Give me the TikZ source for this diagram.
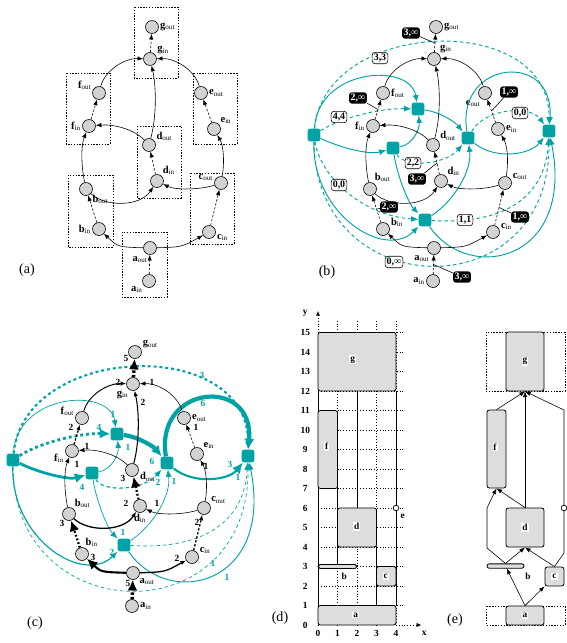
\documentclass[tikz,border=0pt]{standalone}
\usepackage{fontspec}
\setmainfont{Liberation Serif}
\usetikzlibrary{arrows.meta,positioning,calc}
\definecolor{flowteal}{HTML}{00A3A3}
\definecolor{cellgray}{HTML}{D2D2D2}
\definecolor{boxgray}{HTML}{DDDDDD}
\newcommand{\nm}[2]{\textbf{#1}\textsubscript{#2}}
\tikzset{
  cell/.style={circle,draw=black,fill=cellgray,line width=0.5pt,
               minimum size=0.39cm,inner sep=0pt},
  hub/.style={rectangle,rounded corners=2pt,fill=flowteal,
              minimum size=0.38cm,inner sep=0pt},
  lab/.style={font=\fontsize{9}{10}\selectfont,inner sep=1pt},
  wire/.style={-{Latex[length=1.7mm,width=1.3mm]},line width=0.5pt},
  pairwire/.style={wire,dash pattern=on 2pt off 1.5pt},
  twire/.style={-{Latex[length=2.2mm,width=1.8mm]},line width=0.8pt,draw=flowteal},
  tdash/.style={twire,dash pattern=on 3pt off 2.5pt},
  fattip/.style={-{Latex[length=3.2mm,width=3mm]}},
  pairbox/.style={draw,line width=0.6pt,dash pattern=on 1.2pt off 1.2pt},
  darktag/.style={fill=black,text=white,rounded corners=2.5pt,
                  font=\fontsize{8.5}{9}\selectfont\bfseries,inner sep=1.4pt},
  lighttag/.style={draw=black,fill=white,rounded corners=2.5pt,line width=0.5pt,
                   font=\fontsize{8.5}{9}\selectfont\bfseries,inner sep=1.4pt},
  pointer/.style={line width=0.5pt},
  bnum/.style={font=\fontsize{8}{9}\selectfont\bfseries,inner sep=0pt},
  tnum/.style={bnum,text=flowteal},
  panel/.style={font=\fontsize{12}{14}\selectfont},
  block/.style={draw=black,fill=boxgray,line width=0.7pt,rounded corners=2pt,inner sep=0pt},
  blocklab/.style={fill=white,font=\fontsize{8}{9}\selectfont\bfseries,inner sep=0.8pt},
  ticklab/.style={font=\fontsize{8}{9}\selectfont\bfseries},
  gridline/.style={line width=0.4pt,dotted},
  % black wires, one style per edge
  ea/.style={pairwire}, eb/.style={pairwire}, ec/.style={pairwire},
  ed/.style={pairwire}, ef/.style={pairwire}, ee/.style={pairwire},
  eg/.style={pairwire},
  eab/.style={wire}, eac/.style={wire}, ebd/.style={wire}, ecd/.style={wire},
  ebf/.style={wire}, ece/.style={wire}, edf/.style={wire}, edg/.style={wire},
  efg/.style={wire}, eeg/.style={wire},
  % teal wires
  t12/.style={twire}, t12d/.style={tdash}, t15a/.style={tdash},
  t24/.style={twire}, t32/.style={twire}, t13/.style={twire},
  t16d/.style={tdash}, t16/.style={twire}, t36/.style={twire},
  t64/.style={twire}, t65/.style={twire}, t34d/.style={tdash},
  t65d/.style={tdash}, t45d/.style={tdash}, t45a/.style={twire},
  t45/.style={twire}, t15b/.style={tdash}
}
\newcommand{\wires}[1]{%
  \draw[ea]  (#1ain) -- coordinate (#1ma) (#1aout);
  \draw[eab] (#1aout) .. controls (118,247) .. (#1bin);
  \draw[eac] (#1aout) .. controls (182,247) .. (#1cin);
  \draw[eb]  (#1bin) -- coordinate (#1mb) (#1bout);
  \draw[ec]  (#1cin) -- coordinate (#1mc) (#1cout);
  \draw[ebd] (#1bout) .. controls (105,207) and (140,207) .. (#1din);
  \draw[ecd] (#1cout) .. controls (200,190) and (175,190) .. (#1din);
  \draw[ebf] (#1bout) .. controls (81,165) and (81,145) .. (#1fin);
  \draw[ece] (#1cout) .. controls (225,160) and (223,145) .. (#1ein);
  \draw[ed]  (#1din) -- coordinate (#1md) (#1dout);
  \draw[edf] (#1dout) .. controls (135,130) and (115,124) .. (#1fin);
  \draw[edg] (#1dout) .. controls (157,115) and (156,85) .. (#1gin);
  \draw[ef]  (#1fin) -- coordinate (#1mf) (#1fout);
  \draw[ee]  (#1ein) -- coordinate (#1me) (#1eout);
  \draw[efg] (#1fout) .. controls (105,70) and (125,58) .. (#1gin);
  \draw[eeg] (#1eout) .. controls (195,70) and (175,58) .. (#1gin);
  \draw[eg]  (#1gin) -- coordinate (#1mg) (#1gout);
}
\newcommand{\hubwires}[1]{%
  \draw[t12]  (#1s1) .. controls (34,68) and (126,62) .. (#1s2);
  \draw[t12d] (#1s1) .. controls (56,118) and (96,108) .. (#1s2);
  \draw[t15a] (#1s1) .. controls (41,18) and (266,10) .. (#1s5);
  \draw[t24]  (#1s2) .. controls (156,112) and (171,122) .. (#1s4);
  \draw[t32]  (#1s3) .. controls (128,145) and (136,130) .. (#1s2);
  \draw[t13]  (#1s1) .. controls (56,148) and (86,155) .. (#1s3);
  \draw[t16d] (#1s1) .. controls (36,175) and (76,215) .. (#1s6);
  \draw[t16]  (#1s1) .. controls (28,215) and (101,260) .. (#1s6);
  \draw[t36]  (#1s3) .. controls (114,180) and (126,205) .. (#1s6);
  \draw[t64]  (#1s6) .. controls (171,200) and (188,170) .. (#1s4);
  \draw[t65]  (#1s6) .. controls (186,285) and (291,260) .. (#1s5);
  \draw[t34d] (#1s3) .. controls (121,168) and (161,165) .. (#1s4);
  \draw[t65d] (#1s6) .. controls (216,225) and (261,200) .. (#1s5);
  \draw[t45d] (#1s4) .. controls (201,108) and (246,105) .. (#1s5);
  \draw[t45a] (#1s4) .. controls (171,60) and (271,50) .. (#1s5);
  \draw[t45]  (#1s4) .. controls (211,160) and (246,155) .. (#1s5);
  \draw[t15b] (#1s1) .. controls (31,305) and (266,310) .. (#1s5);
}
\newcommand{\hubs}[1]{%
  \node[hub] (#1s1) at (30,135) {};
  \node[hub] (#1s2) at (134,109) {};
  \node[hub] (#1s3) at (109,148) {};
  \node[hub] (#1s4) at (184,138) {};
  \node[hub] (#1s5) at (265,131) {};
  \node[hub] (#1s6) at (141,220) {};
}

\begin{document}
\begin{tikzpicture}[x=0.03cm,y=-0.03cm]
  \path[use as bounding box] (0,0) rectangle (567,643);

  % ---------- (a) ----------
  \draw[pairbox] (134,7) rectangle (178,78);
  \draw[pairbox] (66,73) rectangle (110,144);
  \draw[pairbox] (193,73) rectangle (237,144);
  \draw[pairbox] (137,126) rectangle (181,198);
  \draw[pairbox] (68,175) rectangle (113,247);
  \draw[pairbox] (190,173) rectangle (234,244);
  \draw[pairbox] (122,232) rectangle (167,297);
  \node[cell,label={[lab]0:\nm{g}{out}}] (Agout) at (152,27) {};
  \node[cell,label={[lab]30:\nm{g}{in}}] (Agin) at (150,59) {};
  \node[cell,label={[lab]160:\nm{f}{out}}] (Afout) at (99,93) {};
  \node[cell,label={[lab]180:\nm{f}{in}}] (Afin) at (89,126) {};
  \node[cell,label={[lab]0:\nm{e}{out}}] (Aeout) at (201,93) {};
  \node[cell,label={[lab]40:\nm{e}{in}}] (Aein) at (214,129) {};
  \node[cell,label={[lab]25:\nm{d}{out}}] (Adout) at (149,145) {};
  \node[cell,label={[lab]50:\nm{d}{in}}] (Adin) at (157,181) {};
  \node[cell,label={[lab]-40:\nm{b}{out}}] (About) at (86,189) {};
  \node[cell,label={[lab]180:\nm{b}{in}}] (Abin) at (99,229) {};
  \node[cell,label={[lab]170:\nm{c}{out}}] (Acout) at (221,183) {};
  \node[cell,label={[lab]-10:\nm{c}{in}}] (Acin) at (209,232) {};
  \node[cell,label={[lab]260:\nm{a}{out}}] (Aaout) at (150,248) {};
  \node[cell,label={[lab]220:\nm{a}{in}}] (Aain) at (149,281) {};
  \wires{A}
  \node[panel] (capa) at (27,270) {(a)};

  % ---------- (b) ----------
  \begin{scope}[shift={(284,0)}]
    \node[cell,label={[lab]0:\nm{g}{out}}] (Bgout) at (152,27) {};
    \node[cell,label={[lab]45:\nm{g}{in}}] (Bgin) at (150,59) {};
    \node[cell,label={[lab]0:\nm{f}{out}}] (Bfout) at (99,93) {};
    \node[cell,label={[lab]180:\nm{f}{in}}] (Bfin) at (89,126) {};
    \node[cell,label={[lab]240:\nm{e}{out}}] (Beout) at (201,93) {};
    \node[cell,label={[lab]0:\nm{e}{in}}] (Bein) at (214,129) {};
    \node[cell,label={[lab]30:\nm{d}{out}}] (Bdout) at (149,145) {};
    \node[cell,label={[lab]40:\nm{d}{in}}] (Bdin) at (157,181) {};
    \node[cell,label={[lab]60:\nm{b}{out}}] (Bbout) at (86,189) {};
    \node[cell,label={[lab]10:\nm{b}{in}}] (Bbin) at (99,229) {};
    \node[cell,label={[lab]20:\nm{c}{out}}] (Bcout) at (221,183) {};
    \node[cell,label={[lab]10:\nm{c}{in}}] (Bcin) at (209,232) {};
    \node[cell,label={[lab]240:\nm{a}{out}}] (Baout) at (150,248) {};
    \node[cell,label={[lab]180:\nm{a}{in}}] (Bain) at (149,281) {};
    \hubs{B}
    \hubwires{B}
    \wires{B}
  \end{scope}
  \node[darktag] (tagg) at (411,33) {3,∞};
  \node[lighttag] (tag33) at (380,58) {3,3};
  \node[darktag] (tagf) at (358,98) {2,∞};
  \node[darktag] (tage) at (509,92) {1,∞};
  \node[lighttag] (tag44) at (339,117) {4,4};
  \node[lighttag] (tag00a) at (520,113) {0,0};
  \node[lighttag] (tag22) at (413,163) {2,2};
  \node[darktag] (tagd) at (417,179) {3,∞};
  \node[lighttag] (tag00b) at (339,185) {0,0};
  \node[darktag] (tagb) at (389,207) {2,∞};
  \node[lighttag] (tag11) at (465,220) {1,1};
  \node[darktag] (tagc) at (520,217) {1,∞};
  \node[lighttag] (tag0i) at (394,262) {0,∞};
  \node[darktag] (taga) at (462,277) {3,∞};
  \draw[pointer] (tagg) -- (Bmg);
  \draw[pointer] (tagf) -- (Bmf);
  \draw[pointer] (tage) -- (Bme);
  \draw[pointer] (tagd) -- (Bmd);
  \draw[pointer] (tagb) -- (Bmb);
  \draw[pointer] (tagc) -- (Bmc);
  \draw[pointer] (taga) -- (Bma);
  \node[panel] (capb) at (327,272) {(b)};

  % ---------- (c) ----------
  \begin{scope}[shift={(-17,325)},
      ea/.style={pairwire,fattip,line width=3pt,dash pattern=on 2pt off 1.8pt},
      eab/.style={wire,fattip,line width=1.8pt},
      eac/.style={wire,line width=1.1pt},
      eb/.style={pairwire,fattip,line width=2pt,dash pattern=on 1.5pt off 1.8pt},
      ec/.style={pairwire,line width=1.1pt},
      ebd/.style={wire,line width=1.1pt},
      ed/.style={pairwire,fattip,line width=2pt,dash pattern=on 1.5pt off 1.8pt},
      edg/.style={wire,line width=0.9pt},
      ef/.style={pairwire,line width=1.1pt},
      efg/.style={wire,line width=0.8pt},
      eg/.style={pairwire,fattip,line width=3pt,dash pattern=on 2pt off 1.8pt},
      t12/.style={twire,line width=0.6pt},
      t12d/.style={tdash,fattip,line width=2.4pt,dash pattern=on 2.5pt off 2.5pt},
      t15a/.style={tdash,line width=1.8pt,dash pattern=on 2.5pt off 2.5pt},
      t24/.style={twire,fattip,line width=3.6pt},
      t32/.style={twire,line width=0.6pt},
      t13/.style={twire,fattip,line width=2.4pt},
      t16d/.style={draw=none},
      t16/.style={twire,line width=1pt},
      t36/.style={twire,line width=0.6pt},
      t64/.style={twire,line width=0.6pt},
      t65/.style={twire,line width=0.8pt},
      t34d/.style={tdash,line width=1pt},
      t65d/.style={tdash,line width=0.6pt},
      t45d/.style={draw=none},
      t45a/.style={twire,fattip,line width=3.6pt},
      t45/.style={twire,fattip,line width=1.8pt},
      t15b/.style={tdash,line width=0.6pt}]
    \node[cell,label={[lab]20:\nm{g}{out}}] (Cgout) at (152,27) {};
    \node[cell,label={[lab]240:\nm{g}{in}}] (Cgin) at (150,59) {};
    \node[cell,label={[lab]170:\nm{f}{out}}] (Cfout) at (99,93) {};
    \node[cell,label={[lab]190:\nm{f}{in}}] (Cfin) at (89,126) {};
    \node[cell,label={[lab]0:\nm{e}{out}}] (Ceout) at (201,93) {};
    \node[cell,label={[lab]40:\nm{e}{in}}] (Cein) at (214,129) {};
    \node[cell,label={[lab]-10:\nm{d}{out}}] (Cdout) at (149,145) {};
    \node[cell,label={[lab]270:\nm{d}{in}}] (Cdin) at (157,181) {};
    \node[cell,label={[lab]50:\nm{b}{out}}] (Cbout) at (86,189) {};
    \node[cell,label={[lab]70:\nm{b}{in}}] (Cbin) at (99,229) {};
    \node[cell,label={[lab]30:\nm{c}{out}}] (Ccout) at (221,183) {};
    \node[cell,label={[lab]20:\nm{c}{in}}] (Ccin) at (209,232) {};
    \node[cell,label={[lab]-40:\nm{a}{out}}] (Caout) at (150,248) {};
    \node[cell,label={[lab]0:\nm{a}{in}}] (Cain) at (149,281) {};
    \hubs{C}
    \hubwires{C}
    \wires{C}
  \end{scope}
  % black flows
  \node[bnum] (n1) at (126,358) {5};
  \node[bnum] (n2) at (118,382) {2};
  \node[bnum] (n3) at (152,382) {1};
  \node[bnum] (n4) at (143,402) {2};
  \node[bnum] (n5) at (71,427) {2};
  \node[bnum] (n6) at (87,446) {1};
  \node[bnum] (n7) at (77,464) {1};
  \node[bnum] (n8) at (196,427) {1};
  \node[bnum] (n9) at (206,466) {1};
  \node[bnum] (n10) at (123,478) {3};
  \node[bnum] (n11) at (126,503) {2};
  \node[bnum] (n12) at (157,503) {1};
  \node[bnum] (n13) at (62,523) {3};
  \node[bnum] (n14) at (93,557) {3};
  \node[bnum] (n15) at (197,522) {2};
  \node[bnum] (n16) at (177,558) {2};
  \node[bnum] (n17) at (128,583) {5};
  % teal flows
  \node[tnum] (m1) at (113,414) {1};
  \node[tnum] (m2) at (99,427) {4};
  \node[tnum] (m3) at (202,375) {3};
  \node[tnum] (m4) at (152,461) {6};
  \node[tnum] (m5) at (128,447) {1};
  \node[tnum] (m6) at (82,487) {4};
  \node[tnum] (m7) at (203,403) {6};
  \node[tnum] (m8) at (230,464) {3};
  \node[tnum] (m9) at (158,482) {2};
  \node[tnum] (m10) at (174,481) {1};
  \node[tnum] (m11) at (123,532) {1};
  \node[tnum] (m12) at (112,552) {2};
  \node[tnum] (m13) at (213,563) {1};
  \node[tnum] (m14) at (227,577) {1};
  \node[tnum] (m15) at (238,477) {1};
  \node[panel] (capc) at (35,623) {(c)};

  % ---------- (d) ----------
  \begin{scope}[shift={(318,625)},x=0.585cm,y=0.585cm]
    \foreach \v in {1,...,15} \draw[gridline] (0,\v) -- (4.45,\v);
    \foreach \u in {1,...,4} \draw[gridline] (\u,0) -- (\u,15.6);
    \draw[gridline,-{Latex[length=1.4mm,width=1.2mm]}] (0,0) -- (0,16.1);
    \draw[gridline,-{Latex[length=1.4mm,width=1.2mm]}] (4,0) -- (5.3,0);
    \foreach \v in {0,...,15} \node[ticklab] (ty\v) at (-0.65,\v) {\v};
    \foreach \u in {0,...,4} \node[ticklab] (tx\u) at (\u,-0.45) {\u};
    \node[ticklab] (xname) at (5.45,-0.45) {x};
    \node[ticklab] (yname) at (-0.65,16.0) {y};
    \draw[line width=0.7pt] (0,1) -- (0,12) (1,3.1) -- (1,7) (2,6) -- (2,12)
      (3,1) -- (3,4) (4,1) -- (4,12);
    \draw[block] (0,0) rectangle (4,1);
    \draw[block] (3,2) rectangle (4,3);
    \draw[block] (1,4) rectangle (3,6);
    \draw[block] (0,7) rectangle (1,11);
    \draw[block] (0,12) rectangle (4,15);
    \draw[block,rounded corners=1.6pt] (0,2.9) rectangle (2,3.1);
    \node[circle,draw,fill=white,line width=0.6pt,minimum size=0.17cm,inner sep=0pt] (dpt) at (4,6) {};
    \node[blocklab] (dla) at (1.93,0.5) {a};
    \node[blocklab] (dlb) at (1.35,2.48) {b};
    \node[blocklab] (dlc) at (3.47,2.48) {c};
    \node[blocklab] (dld) at (1.98,5.04) {d};
    \node[blocklab,fill=none] (dle) at (4.34,5.59) {e};
    \node[blocklab] (dlf) at (0.45,9.15) {f};
    \node[blocklab] (dlg) at (1.78,13.6) {g};
  \end{scope}
  \node[panel] (capd) at (280,618) {(d)};

  % ---------- (e) ----------
  \draw[pairbox] (486,332) rectangle (565,391);
  \draw[pairbox] (486,606) rectangle (565,625);
  \node[block,minimum width=1.14cm,minimum height=1.77cm] (pg) at (525,361.5) {};
  \node[block,minimum width=0.57cm,minimum height=2.34cm] (pf) at (496.5,449) {};
  \node[block,minimum width=1.14cm,minimum height=1.17cm] (pd) at (525,527.5) {};
  \node[block,minimum width=1.11cm,minimum height=0.13cm,rounded corners=1.8pt] (pb) at (505.5,566) {};
  \node[block,minimum width=0.57cm,minimum height=0.57cm] (pc) at (554.5,576.5) {};
  \node[block,minimum width=1.14cm,minimum height=0.57cm] (pa) at (525,615.5) {};
  \node[circle,draw,fill=white,line width=0.6pt,minimum size=0.17cm,inner sep=0pt] (pe) at (564,508) {};
  \node[blocklab] (pla) at (pa) {a};
  \node[blocklab,fill=none] (plb) at (528,576) {b};
  \node[blocklab] (plc) at (pc) {c};
  \node[blocklab] (pld) at (pd) {d};
  \node[blocklab] (plf) at (495,447) {f};
  \node[blocklab] (plg) at (pg) {g};
  \draw[wire] (pa.north) -- (pb);
  \draw[wire] (pa.north) -- (pc);
  \draw[wire] (pb.north) -- (pd.south);
  \draw[wire] (pc.north) -- (pd.south);
  \draw[wire] (pb.north) -- (487,548) -- (487,508) -- (pf.south);
  \draw[wire] (pd.north) -- (pf.south);
  \draw[wire] (pd.north) -- (pg.south);
  \draw[wire] (pf.north) -- (pg.south);
  \draw[line width=0.5pt] (pc.north) -- (564,553) -- (pe);
  \draw[wire] (pe) -- (564,410) -- (pg.south);
  \node[panel] (cape) at (455,620) {(e)};
\end{tikzpicture}
\end{document}
